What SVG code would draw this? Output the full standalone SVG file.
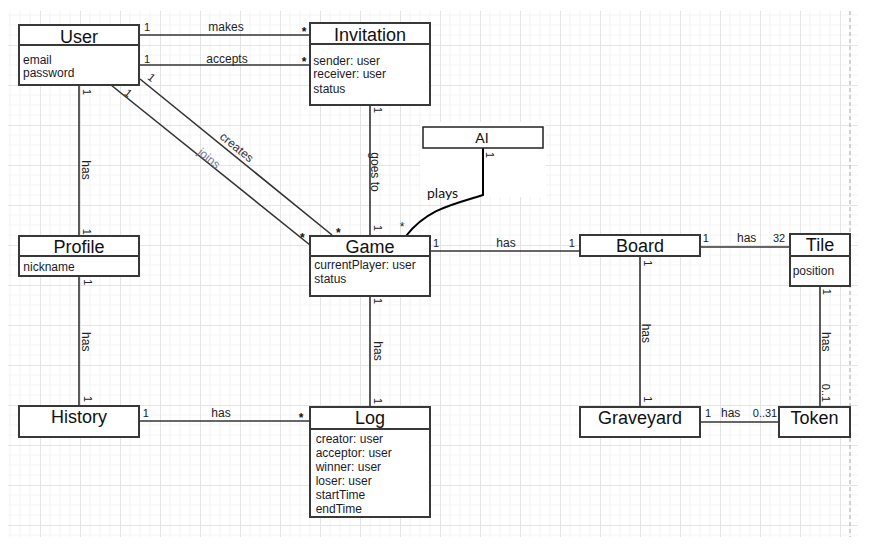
<svg xmlns="http://www.w3.org/2000/svg" width="871" height="545" viewBox="0 0 871 545">
<style>
.box{fill:#fff;stroke:#383838;stroke-width:2}
.sep{stroke:#383838;stroke-width:2}
.ln{fill:none;stroke:#333;stroke-width:1.6}
.t{font-family:"Liberation Sans",Arial,sans-serif;font-size:18px;fill:#111;text-anchor:middle}
.a{font-family:"Liberation Sans",Arial,sans-serif;font-size:12px;fill:#1a1a2a}
.l{font-family:"Liberation Sans",Arial,sans-serif;font-size:12px;fill:#222;text-anchor:middle}
.m{font-family:"Liberation Sans",Arial,sans-serif;font-size:11px;fill:#222;text-anchor:middle}
.s{font-family:"Liberation Sans",Arial,sans-serif;font-size:12px;font-weight:bold;fill:#111;text-anchor:middle}
.c{font-family:Lato,"Noto Sans",sans-serif;font-size:14px;fill:#111}
</style>
<defs>
<pattern id="grid" patternUnits="userSpaceOnUse" x="0" y="5" width="40" height="40">
<path d="M10 0V40M20 0V40M30 0V40M0 10H40M0 20H40M0 30H40" stroke="#f3f3f3" stroke-width="1" fill="none"/>
<path d="M0.5 0V40M0 0.5H40" stroke="#e4e4e4" stroke-width="1" fill="none"/>
</pattern>
</defs>
<rect width="871" height="545" fill="#fff"/>
<rect x="8" y="11" width="850" height="526" fill="url(#grid)"/>
<line x1="850" y1="11" x2="850" y2="537" stroke="#aaa" stroke-width="1" stroke-dasharray="4 3"/>
<rect x="420" y="122" width="126" height="75" fill="#fff"/>

<g id="connectors">
<path class="ln" d="M139 35H310"/>
<path class="ln" d="M139 65H310"/>
<path class="ln" d="M140 79L332 235"/>
<path class="ln" d="M111 85L310 245"/>
<path class="ln" d="M79 85V236"/>
<path class="ln" d="M79 276V406"/>
<path class="ln" d="M370 105V236"/>
<path d="M483 148V195C455 204 428 208 406 236" fill="none" stroke="#000" stroke-width="2"/>
<path class="ln" d="M430 251H580"/>
<path class="ln" d="M700 247H790"/>
<path class="ln" d="M640 256V407"/>
<path class="ln" d="M820 286V407"/>
<path class="ln" d="M700 422H779"/>
<path class="ln" d="M139 421H310"/>
<path class="ln" d="M370 296V407"/>

<text class="m" x="147" y="31">1</text>
<text class="l" x="226" y="31">makes</text>
<text class="s" x="304" y="36">*</text>
<text class="m" x="147" y="63">1</text>
<text class="l" x="227" y="63">accepts</text>
<text class="s" x="304" y="66">*</text>

<text class="m" transform="translate(151.7,77.3) rotate(39)" y="4">1</text>
<text class="m" transform="translate(128.3,92.7) rotate(39)" y="4">1</text>
<text class="l" transform="translate(236.7,147.3) rotate(39)" y="4" style="fill:#2f3040">creates</text>
<text class="l" transform="translate(209,158.3) rotate(39)" y="4" style="fill:#7a7a95">joins</text>
<text class="s" x="338.3" y="237">*</text>
<text class="s" x="302.3" y="242">*</text>

<text class="m" transform="translate(87,92) rotate(90)" y="4">1</text>
<text class="l" transform="translate(86,170) rotate(90)" y="4">has</text>
<text class="m" transform="translate(87,231.7) rotate(90)" y="4">1</text>
<text class="m" transform="translate(88,282.3) rotate(90)" y="4">1</text>
<text class="l" transform="translate(86,341.7) rotate(90)" y="4">has</text>
<text class="m" transform="translate(88,399) rotate(90)" y="4">1</text>

<text class="m" transform="translate(378,110) rotate(90)" y="4">1</text>
<text class="l" transform="translate(375,172) rotate(90)" y="4">goes to</text>
<text class="m" transform="translate(378,228) rotate(90)" y="4">1</text>
<text class="m" transform="translate(378.3,301) rotate(90)" y="4">1</text>
<text class="l" transform="translate(377.7,351) rotate(90)" y="4">has</text>
<text class="m" transform="translate(378,401) rotate(90)" y="4">1</text>

<text class="m" transform="translate(490,155) rotate(90)" y="4">1</text>
<text class="c" x="427" y="198">plays</text>
<text class="m" x="402" y="231" style="font-size:12px">*</text>

<text class="m" x="436" y="247">1</text>
<text class="l" x="506" y="247">has</text>
<text class="m" x="571.7" y="247">1</text>

<text class="m" x="705.7" y="242">1</text>
<text class="l" x="746.7" y="242">has</text>
<text class="m" x="779" y="242">32</text>

<text class="m" transform="translate(648.3,263.3) rotate(90)" y="4">1</text>
<text class="l" transform="translate(646,333.3) rotate(90)" y="4">has</text>
<text class="m" transform="translate(648.3,399.3) rotate(90)" y="4">1</text>

<text class="m" transform="translate(826.7,291.7) rotate(90)" y="4">1</text>
<text class="l" transform="translate(826,341.7) rotate(90)" y="4">has</text>
<text class="m" transform="translate(826,393) rotate(90)" y="4">0..1</text>

<text class="m" x="708" y="417">1</text>
<text class="l" x="730.7" y="417">has</text>
<text class="m" x="765" y="417">0..31</text>

<text class="m" x="145.7" y="417">1</text>
<text class="l" x="221" y="417">has</text>
<text class="s" x="301" y="422">*</text>
</g>

<g id="User">
<rect class="box" x="19" y="25" width="120" height="60"/>
<line class="sep" x1="19" y1="45" x2="139" y2="45"/>
<text class="t" x="79" y="42.5">User</text>
<text class="a" x="23" y="63.5">email</text>
<text class="a" x="23" y="76.5">password</text>
</g>

<g id="Invitation">
<rect class="box" x="310" y="23" width="120" height="82"/>
<line class="sep" x1="310" y1="44" x2="430" y2="44"/>
<text class="t" x="370" y="40.5">Invitation</text>
<text class="a" x="313.3" y="65">sender: user</text>
<text class="a" x="313.3" y="77.5">receiver: user</text>
<text class="a" x="313.3" y="92.5">status</text>
</g>

<g id="AI">
<rect x="423" y="127" width="120" height="21" fill="#fff" stroke="#222" stroke-width="1.5"/>
<text class="c" x="482" y="143" text-anchor="middle">AI</text>
</g>

<g id="Profile">
<rect class="box" x="19" y="236" width="120" height="40"/>
<line class="sep" x1="19" y1="256" x2="139" y2="256"/>
<text class="t" x="79" y="253">Profile</text>
<text class="a" x="23.3" y="270.5">nickname</text>
</g>

<g id="Game">
<rect class="box" x="310" y="236" width="120" height="60"/>
<line class="sep" x1="310" y1="256" x2="430" y2="256"/>
<text class="t" x="370" y="253">Game</text>
<text class="a" x="314.3" y="269">currentPlayer: user</text>
<text class="a" x="314.3" y="283">status</text>
</g>

<g id="Board">
<rect class="box" x="580" y="235" width="120" height="21"/>
<text class="t" x="640" y="252">Board</text>
</g>

<g id="Tile">
<rect class="box" x="790" y="234" width="60" height="52"/>
<line class="sep" x1="790" y1="256" x2="850" y2="256"/>
<text class="t" x="820" y="251">Tile</text>
<text class="a" x="792.7" y="275">position</text>
</g>

<g id="History">
<rect class="box" x="19" y="406" width="120" height="31"/>
<text class="t" x="79" y="423">History</text>
</g>

<g id="Log">
<rect class="box" x="310" y="407" width="120" height="110"/>
<line class="sep" x1="310" y1="429" x2="430" y2="429"/>
<text class="t" x="370" y="424">Log</text>
<text class="a" x="315.7" y="443">creator: user</text>
<text class="a" x="315.7" y="456.5">acceptor: user</text>
<text class="a" x="315.7" y="471">winner: user</text>
<text class="a" x="315.7" y="484.5">loser: user</text>
<text class="a" x="315.7" y="499">startTime</text>
<text class="a" x="315.7" y="512.5">endTime</text>
</g>

<g id="Graveyard">
<rect class="box" x="580" y="407" width="120" height="30"/>
<text class="t" x="640" y="424">Graveyard</text>
</g>

<g id="Token">
<rect class="box" x="779" y="407" width="71" height="30"/>
<text class="t" x="814.5" y="424">Token</text>
</g>
</svg>
